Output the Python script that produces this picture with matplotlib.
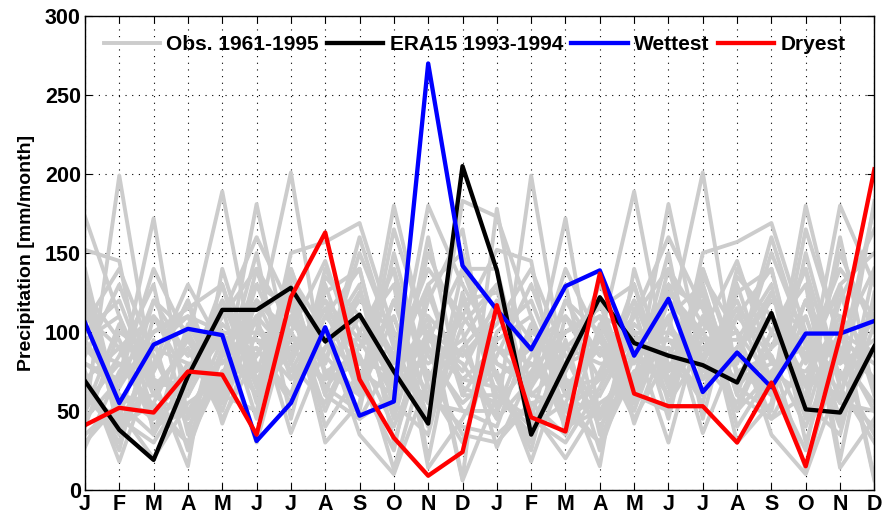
import numpy as np
import matplotlib
matplotlib.use('Agg')
import matplotlib.pyplot as plt

plt.rcParams['font.family'] = ['Liberation Sans', 'DejaVu Sans']
plt.rcParams['font.weight'] = 'bold'

months = ['J', 'F', 'M', 'A', 'M', 'J', 'J', 'A', 'S', 'O', 'N', 'D']
tick_labels = months * 2

# observed monthly precipitation, one row per year 1961-1995
obs_years = np.arange(1961, 1996)
obs = np.array([
    [95, 60, 45, 80, 70, 110, 85, 120, 95, 60, 100, 75],
    [120, 40, 55, 30, 90, 60, 140, 75, 60, 110, 45, 90],
    [45, 199, 70, 60, 100, 95, 70, 90, 125, 80, 130, 60],
    [60, 35, 90, 110, 55, 120, 100, 65, 50, 150, 70, 110],
    [152, 145, 35, 75, 120, 80, 60, 110, 85, 40, 95, 140],
    [80, 70, 172, 45, 85, 130, 115, 50, 100, 70, 60, 40],
    [35, 55, 60, 95, 189, 75, 90, 100, 70, 120, 110, 85],
    [110, 90, 40, 50, 65, 181, 80, 125, 140, 55, 35, 120],
    [70, 25, 110, 85, 95, 100, 201, 70, 80, 90, 125, 65],
    [55, 80, 75, 120, 60, 50, 150, 157, 169, 100, 80, 95],
    [130, 45, 30, 65, 110, 140, 105, 85, 60, 180, 90, 50],
    [40, 100, 85, 40, 75, 90, 60, 135, 110, 65, 180, 130],
    [90, 65, 120, 100, 50, 110, 130, 60, 45, 85, 55, 183],
    [173, 110, 50, 70, 130, 65, 95, 95, 130, 30, 100, 70],
    [65, 30, 95, 25, 85, 120, 75, 115, 90, 140, 65, 30],
    [100, 120, 65, 90, 45, 85, 125, 40, 75, 60, 150, 100],
    [27, 75, 100, 110, 100, 60, 110, 80, 150, 95, 40, 140],
    [140, 50, 20, 55, 70, 150, 45, 130, 65, 120, 85, 55],
    [75, 18, 80, 130, 90, 95, 90, 70, 110, 45, 120, 165],
    [50, 85, 130, 35, 115, 45, 135, 100, 35, 10, 70, 90],
    [115, 60, 55, 100, 60, 130, 80, 55, 100, 130, 14, 45],
    [85, 130, 70, 15, 140, 70, 100, 145, 80, 75, 105, 6],
    [60, 40, 90, 80, 80, 110, 36, 90, 120, 100, 60, 120],
    [125, 95, 45, 60, 105, 85, 120, 30, 55, 165, 95, 80],
    [45, 70, 140, 95, 55, 140, 70, 110, 140, 50, 160, 60],
    [95, 110, 60, 45, 95, 30, 110, 65, 90, 110, 45, 105],
    [130, 35, 75, 120, 42, 100, 85, 120, 70, 25, 130, 150],
    [70, 90, 110, 70, 120, 65, 140, 80, 160, 90, 75, 35],
    [30, 55, 35, 105, 65, 120, 95, 100, 45, 60, 100, 85],
    [105, 140, 85, 50, 85, 90, 55, 140, 100, 140, 19, 125],
    [60, 45, 120, 85, 110, 160, 115, 75, 85, 13, 90, 70],
    [90, 80, 50, 30, 75, 75, 130, 60, 125, 85, 140, 110],
    [80, 65, 100, 115, 130, 55, 90, 115, 60, 120, 55, 50],
    [50, 105, 65, 70, 95, 105, 75, 90, 110, 70, 110, 7],
    [178, 60, 80, 90, 60, 125, 100, 50, 75, 100, 80, 180],
])

era15 = [69, 38, 19, 72, 114, 114, 128, 94, 111, 75, 42, 205,
         139, 35, 79, 122, 93, 85, 79, 68, 112, 51, 49, 91]
wettest = [106, 55, 92, 102, 98, 31, 55, 103, 47, 56, 270, 142,
           114, 89, 129, 139, 85, 121, 62, 87, 65, 99, 99, 107]
dryest = [41, 52, 49, 75, 73, 35, 122, 163, 70, 33, 9, 24,
          117, 46, 37, 137, 61, 53, 53, 30, 68, 15, 97, 203]

x = np.arange(1, 25)

fig = plt.figure(figsize=(8.85, 5.19), dpi=100)
ax = fig.add_axes([0.096, 0.056, 0.892, 0.913])

# two consecutive years per grey line
for i in range(len(obs) - 1):
    pair = np.concatenate([obs[i], obs[i + 1]])
    lab = 'Obs. 1961-1995' if i == 0 else None
    ax.plot(x, pair, color='#cccccc', lw=2.8, label=lab)

ax.plot(x, era15, color='black', lw=3.1, label='ERA15 1993-1994')
ax.plot(x, wettest, color='blue', lw=3.1, label='Wettest')
ax.plot(x, dryest, color='red', lw=3.1, label='Dryest')

ax.set_xlim(1, 24)
ax.set_ylim(0, 300)
ax.set_xticks(x)
ax.set_xticklabels(tick_labels)
ax.set_yticks(np.arange(0, 301, 50))
ax.tick_params(direction='in', top=True, right=True, labelsize=15.5,
               length=5, width=0.8, pad=3)
for lbl in ax.get_xticklabels() + ax.get_yticklabels():
    lbl.set_fontweight('bold')
ax.grid(True, color='black', linestyle=(0, (1, 5)), lw=0.8)
ax.set_ylabel('Precipitation [mm/month]', fontsize=14, fontweight='bold',
              labelpad=7)
for s in ax.spines.values():
    s.set_linewidth(1.0)

ax.legend(loc='upper left', ncol=4, frameon=False,
          handlelength=2.7, columnspacing=0.4, handletextpad=0.3,
          bbox_to_anchor=(0.0, 1.0),
          prop={'weight': 'bold', 'size': 15})

fig.savefig('out.png', dpi=100)
